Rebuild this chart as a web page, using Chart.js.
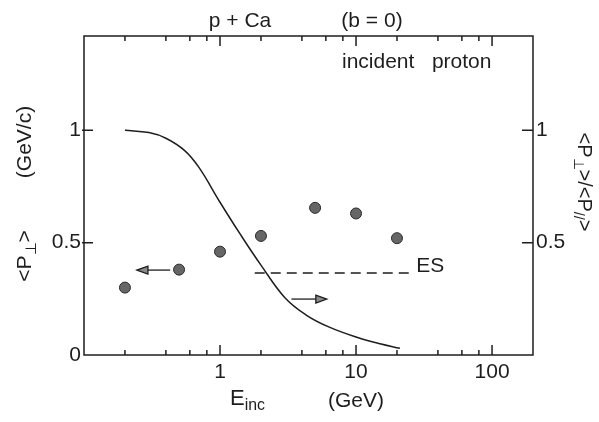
<!DOCTYPE html>
<html>
<head>
<meta charset="utf-8">
<script src="https://cdn.jsdelivr.net/npm/chart.js@4"></script>
<style>
  body { margin: 0; background: #fff; }
  #wrap { width: 599px; height: 422px; position: relative; }
</style>
</head>
<body>
<div id="wrap"><canvas id="chart"></canvas></div>
<script>
// <p_perp> data points (left axis)
const pointE = [0.2, 0.5, 1, 2, 5, 10, 20];
const pointPt = [0.30, 0.38, 0.46, 0.53, 0.655, 0.63, 0.52];

// <p_par>/<p_perp> curve (right axis)
const curveE = [0.2, 0.3, 0.4, 0.55, 0.7, 1.0, 1.4, 2.0, 3.0, 4.3, 6.3, 10, 15, 21];
const curveR = [1.0, 0.99, 0.965, 0.91, 0.835, 0.68, 0.54, 0.40, 0.255, 0.178, 0.125, 0.08, 0.05, 0.03];

// ES level (dashed)
const esE = [1.8, 25];
const esR = [0.365, 0.365];

// axis ticks
const xTicks = [0.2, 0.4, 0.6, 0.8, 1, 2, 4, 6, 8, 10, 20, 40, 60, 80, 100];
const xMajor = [1, 10, 100];
const yTicks = [0, 0.5, 1];
const y2Ticks = [0.5, 1];

const INK = '#1e1e1e';
const FONT = '"Liberation Sans", Arial, sans-serif';

function toXY(xs, ys) {
    return xs.map((v, i) => ({ x: v, y: ys[i] }));
}

// text with a subscript part, drawn left to right from (x, y) on a middle baseline
function drawParts(ctx, parts, x, y, size) {
    let cx = x;
    parts.forEach(p => {
        const s = p.sub ? size * 0.72 : size;
        ctx.font = s + 'px ' + FONT;
        ctx.fillText(p.t, cx, p.sub ? y + size * 0.32 : y);
        cx += ctx.measureText(p.t).width;
    });
    return cx - x;
}

function partsWidth(ctx, parts, size) {
    let w = 0;
    parts.forEach(p => {
        ctx.font = (p.sub ? size * 0.72 : size) + 'px ' + FONT;
        w += ctx.measureText(p.t).width;
    });
    return w;
}

function drawArrow(ctx, x1, y1, x2, y2) {
    const ang = Math.atan2(y2 - y1, x2 - x1);
    const hl = 11, hw = 4;
    const bx = x2 - hl * Math.cos(ang), by = y2 - hl * Math.sin(ang);
    ctx.beginPath();
    ctx.moveTo(x1, y1);
    ctx.lineTo(bx, by);
    ctx.stroke();
    ctx.beginPath();
    ctx.moveTo(x2, y2);
    ctx.lineTo(bx + hw * Math.sin(ang), by - hw * Math.cos(ang));
    ctx.lineTo(bx - hw * Math.sin(ang), by + hw * Math.cos(ang));
    ctx.closePath();
    ctx.fillStyle = '#8a8a8a';
    ctx.fill();
    ctx.stroke();
}

const decor = {
    id: 'decor',
    afterDraw(chart) {
        const { ctx, chartArea: a, scales } = chart;
        const x = scales.x, y = scales.y, y2 = scales.y2;
        ctx.save();
        ctx.strokeStyle = INK;
        ctx.lineWidth = 1.5;
        ctx.strokeRect(a.left, a.top, a.right - a.left, a.bottom - a.top);

        // inward tick marks
        ctx.lineWidth = 1.5;
        ctx.beginPath();
        xTicks.forEach(v => {
            const px = x.getPixelForValue(v);
            const len = xMajor.includes(v) ? 10 : 5;
            ctx.moveTo(px, a.bottom); ctx.lineTo(px, a.bottom - len);
            ctx.moveTo(px, a.top); ctx.lineTo(px, a.top + len);
        });
        yTicks.forEach(v => {
            const py = y.getPixelForValue(v);
            if (v > 0) { ctx.moveTo(a.left - 2, py); ctx.lineTo(a.left + 9, py); }
        });
        y2Ticks.forEach(v => {
            const py = y2.getPixelForValue(v);
            ctx.moveTo(a.right - 11, py); ctx.lineTo(a.right, py);
        });
        ctx.stroke();

        // arrows pointing to the axis each series belongs to
        ctx.lineWidth = 1.3;
        drawArrow(ctx, x.getPixelForValue(0.43), y.getPixelForValue(0.378),
                  x.getPixelForValue(0.245), y.getPixelForValue(0.378));
        drawArrow(ctx, x.getPixelForValue(3.35), y2.getPixelForValue(0.249),
                  x.getPixelForValue(6.1), y2.getPixelForValue(0.249));

        // texts
        ctx.fillStyle = INK;
        ctx.textBaseline = 'middle';
        ctx.font = '21px ' + FONT;
        ctx.textAlign = 'center';
        ctx.fillText('p + Ca', 240, 21);
        ctx.fillText('(b = 0)', 372, 21);
        ctx.textAlign = 'left';
        ctx.fillText('incident   proton', 342, 62);
        ctx.fillText('ES', x.getPixelForValue(25) + 6, y2.getPixelForValue(0.365) - 7);
        ctx.fillText('(GeV)', 328, 401);
        drawParts(ctx, [{ t: 'E' }, { t: 'inc', sub: true }], 230, 399, 22);

        // left axis titles, rotated counter clockwise
        ctx.save();
        ctx.translate(25, 142);
        ctx.rotate(-Math.PI / 2);
        ctx.textAlign = 'center';
        ctx.font = '21px ' + FONT;
        ctx.fillText('(GeV/c)', 0, 0);
        ctx.restore();

        const pPerp = [{ t: '<P' }, { t: '\u22A5', sub: true }, { t: '>' }];
        ctx.save();
        ctx.translate(27, 256);
        ctx.rotate(-Math.PI / 2);
        ctx.textAlign = 'left';
        drawParts(ctx, pPerp, -partsWidth(ctx, pPerp, 21) / 2, -2, 21);
        ctx.restore();

        // right axis title, rotated clockwise
        const ratio = [{ t: '<P' }, { t: '\u22A5', sub: true }, { t: '>/<P' }, { t: '//', sub: true }, { t: '>' }];
        ctx.save();
        ctx.translate(582, 182);
        ctx.rotate(Math.PI / 2);
        ctx.textAlign = 'left';
        drawParts(ctx, ratio, -partsWidth(ctx, ratio, 20) / 2, -2, 20);
        ctx.restore();

        ctx.restore();
    }
};

const chart = new Chart(document.getElementById('chart'), {
    type: 'scatter',
    data: {
        datasets: [
            {
                label: '<p_perp>',
                data: toXY(pointE, pointPt),
                yAxisID: 'y',
                pointRadius: 5.5,
                pointBackgroundColor: '#666',
                pointBorderColor: '#2a2a2a',
                pointBorderWidth: 1
            },
            {
                label: 'ratio',
                type: 'line',
                data: toXY(curveE, curveR),
                yAxisID: 'y2',
                borderColor: INK,
                borderWidth: 1.5,
                pointRadius: 0,
                tension: 0.4,
                fill: false
            },
            {
                label: 'ES',
                type: 'line',
                data: toXY(esE, esR),
                yAxisID: 'y2',
                borderColor: INK,
                borderWidth: 1.5,
                borderDash: [10, 6],
                pointRadius: 0,
                fill: false
            }
        ]
    },
    options: {
        responsive: true,
        maintainAspectRatio: false,
        animation: false,
        layout: { padding: { top: 36, left: 0, right: 0, bottom: 0 } },
        plugins: {
            legend: { display: false },
            tooltip: { enabled: false }
        },
        scales: {
            x: {
                type: 'logarithmic',
                min: 0.1,
                max: 200,
                grid: { display: false, drawTicks: false },
                border: { display: false },
                afterBuildTicks: s => { s.ticks = xTicks.map(v => ({ value: v })); },
                afterFit: s => { s.height = 67; },
                ticks: {
                    autoSkip: false,
                    maxRotation: 0,
                    padding: 5,
                    color: INK,
                    font: { family: FONT, size: 21 },
                    callback: v => xMajor.includes(v) ? String(v) : ''
                }
            },
            y: {
                position: 'left',
                min: 0,
                max: 1.42,
                grid: { display: false, drawTicks: false },
                border: { display: false },
                afterBuildTicks: s => { s.ticks = yTicks.map(v => ({ value: v })); },
                afterFit: s => { s.width = 84; },
                ticks: {
                    padding: 3,
                    color: INK,
                    font: { family: FONT, size: 21 },
                    callback: v => String(v)
                }
            },
            y2: {
                position: 'right',
                min: 0,
                max: 1.42,
                grid: { display: false, drawTicks: false },
                border: { display: false },
                afterBuildTicks: s => { s.ticks = y2Ticks.map(v => ({ value: v })); },
                afterFit: s => { s.width = 66; },
                ticks: {
                    padding: 3,
                    color: INK,
                    font: { family: FONT, size: 21 },
                    callback: v => String(v)
                }
            }
        }
    },
    plugins: [decor]
});
</script>
</body>
</html>
